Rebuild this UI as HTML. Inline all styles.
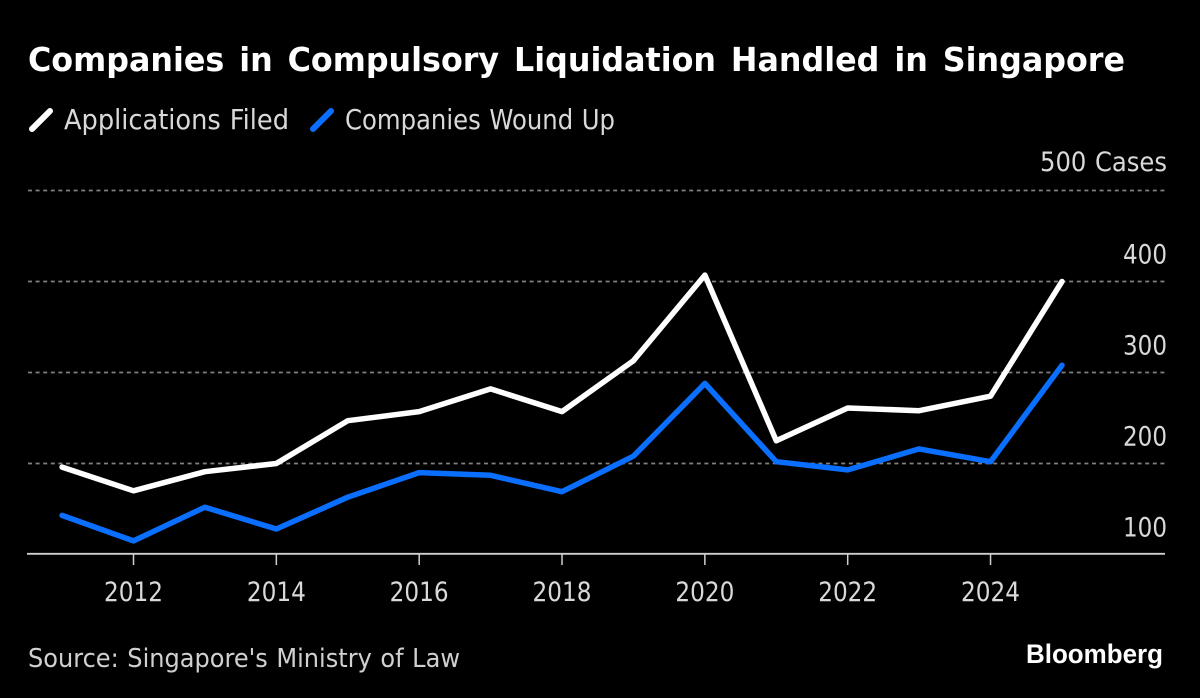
<!DOCTYPE html>
<html>
<head>
<meta charset="utf-8">
<style>
html,body{margin:0;padding:0;background:#000;}
svg{display:block;}
text{font-family:"DejaVu Sans","Liberation Sans",sans-serif;}
</style>
</head>
<body>
<svg id="chart" xmlns="http://www.w3.org/2000/svg" width="1200" height="698" viewBox="0 0 1200 698">
<rect width="1200" height="698" fill="#000"/>
<text x="28" y="71" font-size="33" font-weight="700" fill="#fff" word-spacing="4" textLength="1097" lengthAdjust="spacingAndGlyphs">Companies in Compulsory Liquidation Handled in Singapore</text>
<line x1="32" y1="129" x2="50" y2="111" stroke="#fff" stroke-width="6" stroke-linecap="round"/>
<text x="64" y="129" font-size="28" fill="#d9d9d9" word-spacing="1" textLength="225" lengthAdjust="spacingAndGlyphs">Applications Filed</text>
<line x1="313" y1="129" x2="331" y2="111" stroke="#0a6fff" stroke-width="6" stroke-linecap="round"/>
<text x="345" y="129" font-size="28" fill="#d9d9d9" word-spacing="1" textLength="270" lengthAdjust="spacingAndGlyphs">Companies Wound Up</text>
<g id="grid"></g>
<g id="xaxis"></g>
<g id="series"></g>
<text x="28" y="667" font-size="25.5" fill="#d0d0d0" word-spacing="1" textLength="432" lengthAdjust="spacingAndGlyphs">Source: Singapore's Ministry of Law</text>
<text x="1026" y="663" font-size="27" font-weight="700" fill="#fff" textLength="137" lengthAdjust="spacingAndGlyphs" style="font-family:'Liberation Sans',sans-serif">Bloomberg</text>
</svg>
<script>
const years = [2011,2012,2013,2014,2015,2016,2017,2018,2019,2020,2021,2022,2023,2024,2025];
const applicationsFiled = [196,170,191,200,247,257,282,257,313,407,225,261,258,274,400];
const companiesWoundUp = [143,115,152,128,163,190,187,169,208,288,202,193,216,202,308];
const yTicks = [500,400,300,200];
const yLabels = ['500 Cases','400','300','200','100'];
const yLabelValues = [500,400,300,200,100];
const xTicks = [2012,2014,2016,2018,2020,2022,2024];

const NS = 'http://www.w3.org/2000/svg';
function xScale(year){ return 133.5 + (year - 2012) * 71.42; }
function yScale(value){ return 463.5 - (value - 200) * 0.91; }
function make(parent, tag, attrs){
  const el = document.createElementNS(NS, tag);
  for (const k in attrs) el.setAttribute(k, attrs[k]);
  parent.appendChild(el);
  return el;
}
const grid = document.getElementById('grid');
const xaxis = document.getElementById('xaxis');
const series = document.getElementById('series');

yTicks.forEach(function(v){
  const l = make(grid, 'line', {x1:28, x2:1165, y1:yScale(v), y2:yScale(v), stroke:'#808080', 'stroke-width':1.8, 'stroke-dasharray':'4 3.6'});
  
  
});
yLabels.forEach(function(label, i){
  const isLong = label.length > 3;
  const t = make(grid, 'text', {x:1167, y:yScale(yLabelValues[i]) - (isLong ? 19.5 : 18), 'text-anchor':'end', 'font-size':27, fill:'#d9d9d9', 'word-spacing':1, textLength:isLong ? 127 : 44, lengthAdjust:'spacingAndGlyphs'});
  t.textContent = label;
  
  
});
const axisLine = make(xaxis, 'line', {x1:27, x2:1165, y1:553.8, y2:553.8, stroke:'#cfcfcf', 'stroke-width':1.8});


xTicks.forEach(function(y){
  const tick = make(xaxis, 'line', {x1:xScale(y), x2:xScale(y), y1:554, y2:565, stroke:'#cfcfcf', 'stroke-width':1.5});
  
  
  const t = make(xaxis, 'text', {x:xScale(y), y:601, 'text-anchor':'middle', 'font-size':27, fill:'#d9d9d9', textLength:59, lengthAdjust:'spacingAndGlyphs'});
  t.textContent = y;
  
  
});
function pointsFor(values){
  return values.map(function(v, i){ return xScale(years[i]).toFixed(1) + ',' + yScale(v).toFixed(1); }).join(' ');
}
const lineA = make(series, 'polyline', {points:pointsFor(applicationsFiled), fill:'none', stroke:'#ffffff', 'stroke-width':5.5, 'stroke-linejoin':'round', 'stroke-linecap':'round'});


const lineB = make(series, 'polyline', {points:pointsFor(companiesWoundUp), fill:'none', stroke:'#0a6fff', 'stroke-width':5.5, 'stroke-linejoin':'round', 'stroke-linecap':'round'});


</script>
</body>
</html>
